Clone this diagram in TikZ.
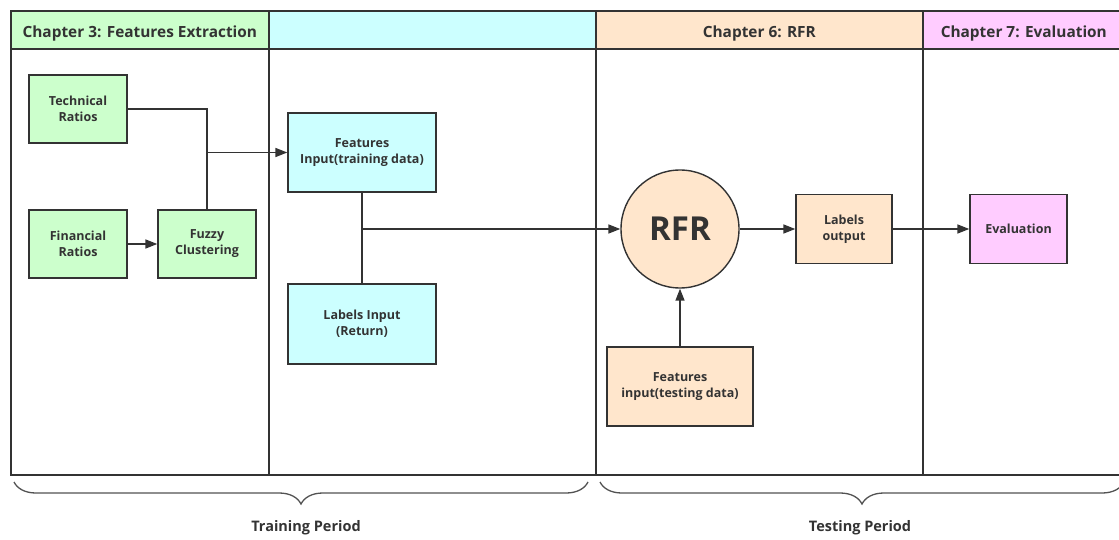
\documentclass[tikz,border=0pt]{standalone}
\usepackage{fontspec}
\setmainfont{Open Sans}
\usetikzlibrary{arrows.meta,decorations.pathreplacing}
\definecolor{ink}{HTML}{333333}
\definecolor{grn}{HTML}{CCFFCC}
\definecolor{cyn}{HTML}{CCFFFF}
\definecolor{pch}{HTML}{FFE6CC}
\definecolor{pnk}{HTML}{FFCCFF}
\begin{document}
\begin{tikzpicture}[x=1pt,y=-1pt,
  cell/.style={draw=ink,line width=1.6pt,rectangle,inner sep=0pt,anchor=north west},
  head/.style={cell,font=\bfseries\fontsize{15.4}{17}\selectfont,text=ink,
    text height=15pt,text depth=0pt},
  box/.style={draw=ink,line width=1.4pt,rectangle,inner sep=2pt,align=center,
    text=ink,font=\bfseries\fontsize{12.5}{16}\selectfont},
  wire/.style={draw=ink,line width=1.6pt},
  arr/.style={wire,-{Triangle[length=12pt,width=9pt]}},
  brace/.style={draw=ink!85,line width=1.3pt,decorate,
    decoration={brace,amplitude=22pt}},
  period/.style={text=ink,font=\bfseries\fontsize{14.5}{16}\selectfont}]
\useasboundingbox (0,0) rectangle (1119,540);

% lanes with header cells
\node[cell,minimum width=258pt,minimum height=426pt] (lane3) at (10,48) {};
\node[cell,minimum width=327pt,minimum height=426pt] (laneT) at (268,48) {};
\node[cell,minimum width=327pt,minimum height=426pt] (lane6) at (595,48) {};
\node[cell,minimum width=202pt,minimum height=426pt] (lane7) at (922,48) {};
\node[head,fill=grn,minimum width=258pt,minimum height=38pt] (h3) at (10,10) {Chapter 3: Features Extraction};
\node[head,fill=cyn,minimum width=327pt,minimum height=38pt] (hT) at (268,10) {};
\node[head,fill=pch,minimum width=327pt,minimum height=38pt] (h6) at (595,10) {Chapter 6: RFR};
\node[head,fill=pnk,minimum width=202pt,minimum height=38pt] (h7) at (922,10) {Chapter 7: Evaluation};

% feature extraction
\node[box,fill=grn,minimum width=98pt,minimum height=68pt] (tech) at (78,109) {Technical\\Ratios};
\node[box,fill=grn,minimum width=98pt,minimum height=68pt] (fin) at (78,244) {Financial\\Ratios};
\node[box,fill=grn,minimum width=98pt,minimum height=68pt] (fuzzy) at (207,244) {Fuzzy\\Clustering};

% training inputs
\node[box,fill=cyn,minimum width=148pt,minimum height=79pt] (ftrain) at (362,152.5) {Features\\Input(training data)};
\node[box,fill=cyn,minimum width=148pt,minimum height=80pt] (lin) at (362,324) {Labels Input\\(Return)};

% model and outputs
\node[draw=ink,line width=1.4pt,circle,fill=pch,minimum size=118pt,inner sep=0pt,
  text=ink,font=\bfseries\fontsize{33}{36}\selectfont] (rfr) at (680,229) {RFR};
\node[box,fill=pch,minimum width=96pt,minimum height=69pt] (lout) at (844,229) {Labels\\output};
\node[box,fill=pch,minimum width=146pt,minimum height=79pt] (ftest) at (680,386.5) {Features\\input(testing data)};
\node[box,fill=pnk,minimum width=97pt,minimum height=69pt] (eval) at (1018.5,229) {Evaluation};

% connectors
\coordinate (j1) at (207,152.5);
\coordinate (j2) at (362,229);
\draw[arr] (fin) -- (fuzzy);
\draw[wire] (tech.east) -| (j1);
\draw[wire] (fuzzy.north) -- (j1);
\draw[arr] (j1) -- (ftrain.west);
\draw[wire] (ftrain.south) -- (lin.north);
\draw[arr] (j2) -- (rfr.west);
\draw[arr] (rfr.east) -- (lout.west);
\draw[arr] (lout.east) -- (eval.west);
\draw[arr] (ftest.north) -- (rfr.south);

% periods
\coordinate (b1s) at (588,482);
\coordinate (b1e) at (14,482);
\coordinate (b2s) at (1124,482);
\coordinate (b2e) at (600,482);
\draw[brace] (b1s) -- (b1e);
\draw[brace] (b2s) -- (b2e);
\node[period] (train) at (306,528) {Training Period};
\node[period] (test) at (860,528) {Testing Period};
\end{tikzpicture}
\end{document}
